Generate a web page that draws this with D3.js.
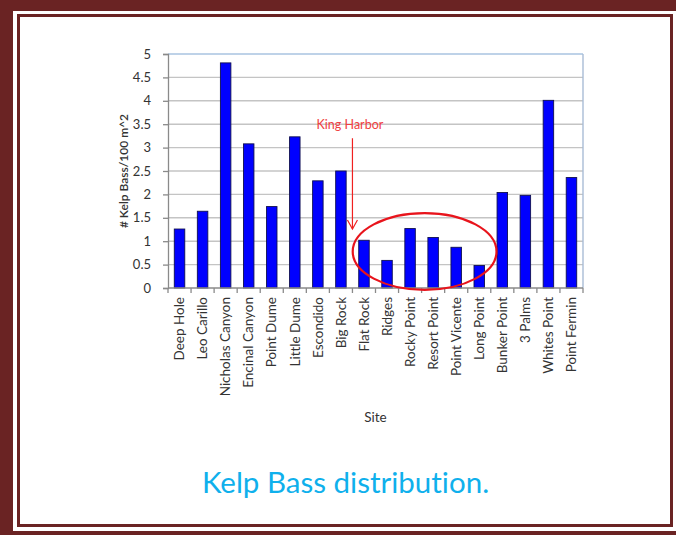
<!DOCTYPE html>
<html>
<head>
<meta charset="utf-8">
<script src="https://cdn.jsdelivr.net/npm/d3@7"></script>
<style>
  html, body { margin: 0; padding: 0; background: #fff; }
  svg { display: block; }
  text { font-family: Lato, "Open Sans", sans-serif; font-variant-ligatures: none; }
</style>
</head>
<body>
<svg id="chart" width="676" height="535"></svg>
<script>
// Kelp bass density by survey site (fish per 100 m^2)
const sites = [
  "Deep Hole", "Leo Carillo", "Nicholas Canyon", "Encinal Canyon", "Point Dume",
  "Little Dume", "Escondido", "Big Rock", "Flat Rock", "Ridges", "Rocky Point",
  "Resort Point", "Point Vicente", "Long Point", "Bunker Point", "3 Palms",
  "Whites Point", "Point Fermin"
];
const densities = [
  1.26, 1.64, 4.81, 3.08, 1.74, 3.23, 2.29, 2.50, 1.02, 0.59, 1.27,
  1.08, 0.87, 0.48, 2.04, 1.98, 4.01, 2.36
];
const yTicks = [0, 0.5, 1, 1.5, 2, 2.5, 3, 3.5, 4, 4.5, 5];
// King Harbor sites, circled on the chart
const circledSites = ["Flat Rock", "Ridges", "Rocky Point", "Resort Point", "Point Vicente", "Long Point"];
const annotationText = "King Harbor";
const captionText = "Kelp Bass distribution.";

const data = sites.map((s, i) => ({ site: s, value: densities[i] }));

const svg = d3.select("#chart");
const maroon = "#6a2323";

// page frame: thick outer band with a thin inner rule
svg.append("rect").attr("x", 0).attr("y", 0).attr("width", 676).attr("height", 535).attr("fill", maroon);
svg.append("rect").attr("x", 13).attr("y", 11).attr("width", 663).attr("height", 520).attr("fill", "#fff");
svg.append("rect").attr("x", 18.5).attr("y", 15.5).attr("width", 653).attr("height", 510)
  .attr("fill", "none").attr("stroke", maroon).attr("stroke-width", 3);

const plot = { left: 168, right: 583, top: 54, bottom: 288 };

const x = d3.scaleBand()
  .domain(sites)
  .range([plot.left, plot.right])
  .paddingInner(0.545)
  .paddingOuter(0.2725);

const y = d3.scaleLinear().domain([0, 5]).range([plot.bottom, plot.top]);

// horizontal gridlines
svg.append("g")
  .selectAll("line")
  .data(yTicks.filter(d => d > 0))
  .join("line")
  .attr("x1", plot.left).attr("x2", plot.right)
  .attr("y1", d => y(d)).attr("y2", d => y(d))
  .attr("stroke", d => d === 5 ? "#a9c3e0" : "#c4c4c4")
  .attr("stroke-width", 1.4);

// right edge of plot area
svg.append("line")
  .attr("x1", plot.right).attr("x2", plot.right)
  .attr("y1", plot.top).attr("y2", plot.bottom)
  .attr("stroke", "#a9bcd6").attr("stroke-width", 1.4);

// bars
svg.append("g")
  .selectAll("rect")
  .data(data)
  .join("rect")
  .attr("x", d => x(d.site))
  .attr("y", d => y(d.value))
  .attr("width", x.bandwidth())
  .attr("height", d => y(0) - y(d.value))
  .attr("fill", "#0000ff")
  .attr("stroke", "#101050")
  .attr("stroke-width", 0.9);

// y axis
const yAxis = svg.append("g")
  .attr("transform", `translate(${plot.left},0)`)
  .call(d3.axisLeft(y).tickValues(yTicks).tickFormat(d => String(d)).tickSize(5).tickPadding(12));
yAxis.select(".domain").attr("stroke", "#8a8a8a").attr("stroke-width", 1.3);
yAxis.selectAll(".tick line").attr("stroke", "#8a8a8a").attr("stroke-width", 1.3);
yAxis.selectAll(".tick text")
  .attr("fill", "#333").attr("font-size", 13).attr("font-family", "Lato, sans-serif");

// x axis baseline and category boundary ticks
svg.append("line")
  .attr("x1", plot.left).attr("x2", plot.right)
  .attr("y1", y(0)).attr("y2", y(0))
  .attr("stroke", "#8a8a8a").attr("stroke-width", 1.3);
const gap = (x.step() - x.bandwidth()) / 2;
const leftEdge = s => x(s) - gap;
const boundaries = sites.map(leftEdge).concat([x(sites[sites.length - 1]) + x.bandwidth() + gap]);
svg.append("g")
  .selectAll("line")
  .data(boundaries)
  .join("line")
  .attr("x1", d => d).attr("x2", d => d)
  .attr("y1", y(0)).attr("y2", y(0) + 5)
  .attr("stroke", "#8a8a8a").attr("stroke-width", 1.3);

// rotated category labels
svg.append("g")
  .selectAll("text")
  .data(sites)
  .join("text")
  .attr("transform", d => `translate(${x(d) + x.bandwidth() / 2},${y(0) + 9}) rotate(-90)`)
  .attr("text-anchor", "end")
  .attr("dy", "0.35em")
  .attr("font-size", 13.5)
  .attr("fill", "#333")
  .text(d => d);

// axis titles
svg.append("text")
  .attr("transform", `translate(124,${(plot.top + plot.bottom) / 2}) rotate(-90)`)
  .attr("text-anchor", "middle")
  .attr("dy", "0.35em")
  .attr("font-size", 12)
  .attr("font-weight", 600)
  .attr("fill", "#333")
  .text("# Kelp Bass/100 m^2");

svg.append("text")
  .attr("x", (plot.left + plot.right) / 2)
  .attr("y", 422)
  .attr("text-anchor", "middle")
  .attr("font-size", 13.5)
  .attr("fill", "#333")
  .text("Site");

// King Harbor call-out: arrow drops onto the Big Rock / Flat Rock boundary
const arrowX = leftEdge("Flat Rock");
const red = "#f02020";
svg.append("text")
  .attr("x", arrowX - 2.5)
  .attr("y", y(3.4))
  .attr("text-anchor", "middle")
  .attr("font-size", 12.5)
  .attr("fill", "#f04040")
  .text(annotationText);
const tipY = y(1.26);
svg.append("line")
  .attr("x1", arrowX).attr("x2", arrowX)
  .attr("y1", y(3.2)).attr("y2", tipY)
  .attr("stroke", red).attr("stroke-width", 1.2);
svg.append("path")
  .attr("d", `M${arrowX - 5},${tipY - 9} L${arrowX},${tipY} L${arrowX + 5},${tipY - 9}`)
  .attr("fill", "none").attr("stroke", red).attr("stroke-width", 1.2);

// ellipse around the King Harbor sites
const cFirst = x(circledSites[0]);
const cLast = x(circledSites[circledSites.length - 1]) + x.bandwidth();
svg.append("ellipse")
  .attr("cx", (cFirst + cLast) / 2 + 3)
  .attr("cy", y(0.78))
  .attr("rx", (cLast - cFirst) / 2 + 9)
  .attr("ry", y(0) - y(0.82))
  .attr("fill", "none")
  .attr("stroke", "#e8141c")
  .attr("stroke-width", 2.2);

// caption
svg.append("text")
  .attr("x", 345.5)
  .attr("y", 493)
  .attr("text-anchor", "middle")
  .attr("font-size", 29.5)
  .attr("fill", "#0fb0ec")
  .text(captionText);
</script>
</body>
</html>
